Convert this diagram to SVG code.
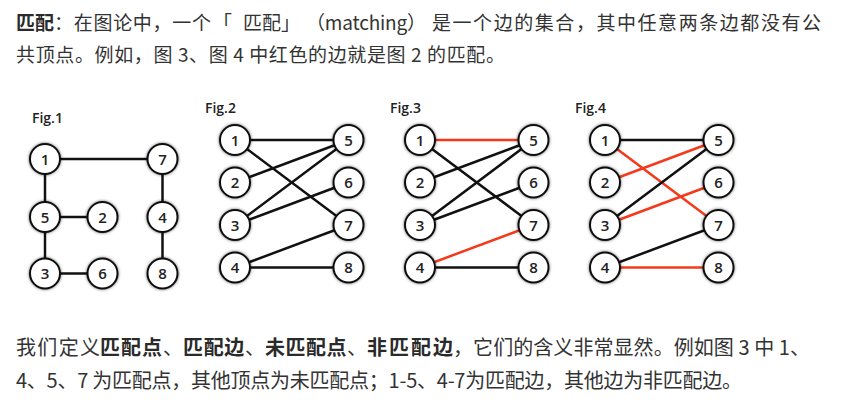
<svg xmlns="http://www.w3.org/2000/svg" width="852" height="403" viewBox="0 0 852 403">
<defs>
<filter id="sh" x="-50%" y="-50%" width="200%" height="200%">
<feDropShadow dx="0" dy="0" stdDeviation="1.8" flood-color="#000" flood-opacity="0.6"/>
</filter>
<style>
.p{font-family:"Noto Sans CJK SC","Noto Sans",sans-serif;font-size:19px;fill:#333}
.q{font-family:"Noto Sans CJK SC","Noto Sans",sans-serif;font-size:20px;fill:#333}
.b{font-weight:700;fill:#2a2a2a}
.n{font-weight:400;fill:#333}
.fig{font-family:"Open Sans","Liberation Sans",sans-serif;font-size:14px;font-weight:600;fill:#222}
.nd circle{fill:#fff;stroke:#111;stroke-width:2;filter:url(#sh)}
.nd text{font-family:"Open Sans","Liberation Sans",sans-serif;font-size:15px;font-weight:600;fill:#222;text-anchor:middle}
.e{stroke:#111;stroke-width:2.5;fill:none}
.r{stroke:#f4391c;stroke-width:2.5;fill:none}
</style>
</defs>
<rect width="852" height="403" fill="#fff"/>

<g id="text">
<text class="p b" x="16" y="30">匹配</text>
<text class="p" x="54" y="30" textLength="157" lengthAdjust="spacing">：在图论中，一个</text>
<text class="p" x="213" y="30">「</text>
<text class="p" x="243" y="30">匹配」</text>
<text class="p" x="306" y="30" textLength="120" lengthAdjust="spacing">（matching）</text>
<text class="p" x="432" y="30" textLength="389" lengthAdjust="spacing">是一个边的集合，其中任意两条边都没有公</text>
<text class="p" x="16" y="62" textLength="489" lengthAdjust="spacing">共顶点。例如，图 3、图 4 中红色的边就是图 2 的匹配。</text>

<text class="q" x="16" y="355" textLength="84" lengthAdjust="spacing">我们定义</text>
<text class="q b" x="100" y="355" textLength="83" lengthAdjust="spacing">匹配点<tspan class="n">、</tspan></text>
<text class="q b" x="183" y="355" textLength="82" lengthAdjust="spacing">匹配边<tspan class="n">、</tspan></text>
<text class="q b" x="265" y="355" textLength="102" lengthAdjust="spacing">未匹配点<tspan class="n">、</tspan></text>
<text class="q b" x="367" y="355" textLength="86" lengthAdjust="spacing">非匹配边</text>
<text class="q" x="453" y="355" textLength="357" lengthAdjust="spacing">，它们的含义非常显然。例如图 3 中 1、</text>
<text class="q" x="16" y="388" textLength="726" lengthAdjust="spacing">4、5、7 为匹配点，其他顶点为未匹配点；1-5、4-7为匹配边，其他边为非匹配边。</text>
</g>

<g id="labels">
<text class="fig" x="32" y="123">Fig.1</text>
<text class="fig" x="205" y="113">Fig.2</text>
<text class="fig" x="390" y="113">Fig.3</text>
<text class="fig" x="575" y="113">Fig.4</text>
</g>

<g id="connectors">
<!-- Fig.1 -->
<line class="e" x1="45" y1="159" x2="162.5" y2="159"/>
<line class="e" x1="45" y1="159" x2="45" y2="217"/>
<line class="e" x1="45" y1="217" x2="45" y2="273.5"/>
<line class="e" x1="45" y1="217" x2="102.5" y2="217"/>
<line class="e" x1="45" y1="273.5" x2="102.5" y2="273.5"/>
<line class="e" x1="162.5" y1="159" x2="162.5" y2="217"/>
<line class="e" x1="162.5" y1="217" x2="162.5" y2="273.5"/>
<!-- Fig.2 -->
<line class="e" x1="235" y1="140" x2="348.5" y2="140"/>
<line class="e" x1="235" y1="140" x2="348.5" y2="225"/>
<line class="e" x1="235" y1="182.5" x2="348.5" y2="140"/>
<line class="e" x1="235" y1="225" x2="348.5" y2="140"/>
<line class="e" x1="235" y1="225" x2="348.5" y2="182.5"/>
<line class="e" x1="235" y1="267.5" x2="348.5" y2="225"/>
<line class="e" x1="235" y1="267.5" x2="348.5" y2="267.5"/>
<!-- Fig.3 -->
<line class="r" x1="420" y1="140" x2="533.5" y2="140"/>
<line class="e" x1="420" y1="140" x2="533.5" y2="225"/>
<line class="e" x1="420" y1="182.5" x2="533.5" y2="140"/>
<line class="e" x1="420" y1="225" x2="533.5" y2="140"/>
<line class="e" x1="420" y1="225" x2="533.5" y2="182.5"/>
<line class="r" x1="420" y1="267.5" x2="533.5" y2="225"/>
<line class="e" x1="420" y1="267.5" x2="533.5" y2="267.5"/>
<!-- Fig.4 -->
<line class="e" x1="605" y1="140" x2="718.5" y2="140"/>
<line class="r" x1="605" y1="140" x2="718.5" y2="225"/>
<line class="r" x1="605" y1="182.5" x2="718.5" y2="140"/>
<line class="e" x1="605" y1="225" x2="718.5" y2="140"/>
<line class="r" x1="605" y1="225" x2="718.5" y2="182.5"/>
<line class="e" x1="605" y1="267.5" x2="718.5" y2="225"/>
<line class="r" x1="605" y1="267.5" x2="718.5" y2="267.5"/>
</g>

<!-- Fig.1 nodes -->
<g id="f1-n1" class="nd"><circle cx="45" cy="159" r="15"/><text x="45" y="164.5">1</text></g>
<g id="f1-n7" class="nd"><circle cx="162.5" cy="159" r="15"/><text x="162.5" y="164.5">7</text></g>
<g id="f1-n5" class="nd"><circle cx="45" cy="217" r="15"/><text x="45" y="222.5">5</text></g>
<g id="f1-n2" class="nd"><circle cx="102.5" cy="217" r="15"/><text x="102.5" y="222.5">2</text></g>
<g id="f1-n4" class="nd"><circle cx="162.5" cy="217" r="15"/><text x="162.5" y="222.5">4</text></g>
<g id="f1-n3" class="nd"><circle cx="45" cy="273.5" r="15"/><text x="45" y="279">3</text></g>
<g id="f1-n6" class="nd"><circle cx="102.5" cy="273.5" r="15"/><text x="102.5" y="279">6</text></g>
<g id="f1-n8" class="nd"><circle cx="162.5" cy="273.5" r="15"/><text x="162.5" y="279">8</text></g>

<!-- Fig.2 nodes -->
<g id="f2-n1" class="nd"><circle cx="235" cy="140" r="15"/><text x="235" y="145.5">1</text></g>
<g id="f2-n2" class="nd"><circle cx="235" cy="182.5" r="15"/><text x="235" y="188">2</text></g>
<g id="f2-n3" class="nd"><circle cx="235" cy="225" r="15"/><text x="235" y="230.5">3</text></g>
<g id="f2-n4" class="nd"><circle cx="235" cy="267.5" r="15"/><text x="235" y="273">4</text></g>
<g id="f2-n5" class="nd"><circle cx="348.5" cy="140" r="15"/><text x="348.5" y="145.5">5</text></g>
<g id="f2-n6" class="nd"><circle cx="348.5" cy="182.5" r="15"/><text x="348.5" y="188">6</text></g>
<g id="f2-n7" class="nd"><circle cx="348.5" cy="225" r="15"/><text x="348.5" y="230.5">7</text></g>
<g id="f2-n8" class="nd"><circle cx="348.5" cy="267.5" r="15"/><text x="348.5" y="273">8</text></g>

<!-- Fig.3 nodes -->
<g id="f3-n1" class="nd"><circle cx="420" cy="140" r="15"/><text x="420" y="145.5">1</text></g>
<g id="f3-n2" class="nd"><circle cx="420" cy="182.5" r="15"/><text x="420" y="188">2</text></g>
<g id="f3-n3" class="nd"><circle cx="420" cy="225" r="15"/><text x="420" y="230.5">3</text></g>
<g id="f3-n4" class="nd"><circle cx="420" cy="267.5" r="15"/><text x="420" y="273">4</text></g>
<g id="f3-n5" class="nd"><circle cx="533.5" cy="140" r="15"/><text x="533.5" y="145.5">5</text></g>
<g id="f3-n6" class="nd"><circle cx="533.5" cy="182.5" r="15"/><text x="533.5" y="188">6</text></g>
<g id="f3-n7" class="nd"><circle cx="533.5" cy="225" r="15"/><text x="533.5" y="230.5">7</text></g>
<g id="f3-n8" class="nd"><circle cx="533.5" cy="267.5" r="15"/><text x="533.5" y="273">8</text></g>

<!-- Fig.4 nodes -->
<g id="f4-n1" class="nd"><circle cx="605" cy="140" r="15"/><text x="605" y="145.5">1</text></g>
<g id="f4-n2" class="nd"><circle cx="605" cy="182.5" r="15"/><text x="605" y="188">2</text></g>
<g id="f4-n3" class="nd"><circle cx="605" cy="225" r="15"/><text x="605" y="230.5">3</text></g>
<g id="f4-n4" class="nd"><circle cx="605" cy="267.5" r="15"/><text x="605" y="273">4</text></g>
<g id="f4-n5" class="nd"><circle cx="718.5" cy="140" r="15"/><text x="718.5" y="145.5">5</text></g>
<g id="f4-n6" class="nd"><circle cx="718.5" cy="182.5" r="15"/><text x="718.5" y="188">6</text></g>
<g id="f4-n7" class="nd"><circle cx="718.5" cy="225" r="15"/><text x="718.5" y="230.5">7</text></g>
<g id="f4-n8" class="nd"><circle cx="718.5" cy="267.5" r="15"/><text x="718.5" y="273">8</text></g>
</svg>
